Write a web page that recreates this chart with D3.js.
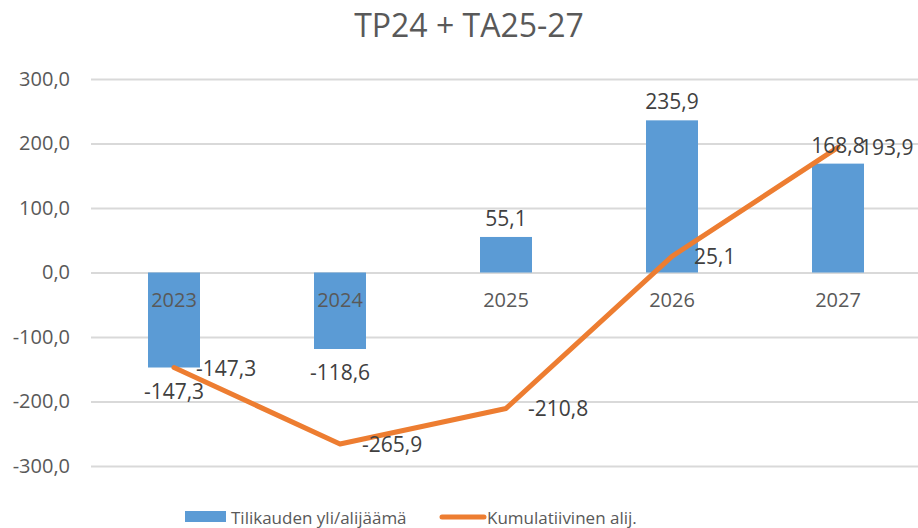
<!DOCTYPE html>
<html>
<head>
<meta charset="utf-8">
<script src="https://cdn.jsdelivr.net/npm/d3@7"></script>
<style>
  body { margin: 0; background: #fff; }
  svg { display: block; font-family: "Open Sans", sans-serif; }
</style>
</head>
<body>
<div id="chart"></div>
<script>
var years = ["2023", "2024", "2025", "2026", "2027"];
var tilikausi = [-147.3, -118.6, 55.1, 235.9, 168.8];
var kumulatiivinen = [-147.3, -265.9, -210.8, 25.1, 193.9];
var yTicks = [-300, -200, -100, 0, 100, 200, 300];
var seriesNames = ["Tilikauden yli/alijäämä", "Kumulatiivinen alij."];

function init(){
    var w = 918;
    var h = 528;
    var barColor = "#5B9BD5";
    var lineColor = "#ED7D31";

    var fmt = function(v) { return d3.format(".1f")(v).replace(".", ",").replace("−", "-"); };

    var x = d3.scaleBand()
                .domain(years)
                .range([91, 921]);

    var y = d3.scaleLinear()
                .domain([-300, 300])
                .range([466, 79]);

    var svg = d3.select("#chart")
                .append("svg")
                .attr("width", w)
                .attr("height", h);

    // title
    svg.append("text")
        .attr("x", 469)
        .attr("y", 37)
        .attr("text-anchor", "middle")
        .attr("font-size", 32)
        .attr("fill", "#595959")
        .text("TP24 + TA25-27");

    // gridlines + y labels
    var yAxis = d3.axisLeft(y)
                    .tickValues(yTicks)
                    .tickSize(-(921 - 91))
                    .tickPadding(21)
                    .tickFormat(fmt);

    var gy = svg.append("g")
        .attr("transform", "translate(91,0)")
        .call(yAxis);
    gy.select(".domain").remove();
    gy.selectAll(".tick line").attr("stroke", "#D9D9D9").attr("stroke-width", 2);
    gy.selectAll(".tick text")
        .attr("font-size", 20)
        .attr("fill", "#595959")
        .attr("font-family", "Open Sans, sans-serif");

    var bw = 52;

    // bars
    svg.selectAll("rect.bar")
        .data(tilikausi)
        .enter()
        .append("rect")
        .attr("class", "bar")
        .attr("x", function(d, i) { return x(years[i]) + x.bandwidth() / 2 - bw / 2; })
        .attr("y", function(d) { return Math.min(y(d), y(0)); })
        .attr("width", bw)
        .attr("height", function(d) { return Math.abs(y(d) - y(0)); })
        .attr("fill", barColor);

    // category labels next to zero line
    var xAxis = d3.axisBottom(x).tickSize(0).tickPadding(20);
    var gx = svg.append("g")
        .attr("transform", "translate(0," + y(0) + ")")
        .call(xAxis);
    gx.select(".domain").remove();
    gx.selectAll(".tick text")
        .attr("font-size", 20)
        .attr("fill", "#595959")
        .attr("font-family", "Open Sans, sans-serif");

    // line
    var line = d3.line()
                .x(function(d, i) { return x(years[i]) + x.bandwidth() / 2; })
                .y(function(d) { return y(d); });

    svg.append("path")
        .datum(kumulatiivinen)
        .attr("d", line)
        .attr("fill", "none")
        .attr("stroke", lineColor)
        .attr("stroke-width", 5)
        .attr("stroke-linejoin", "round")
        .attr("stroke-linecap", "round");

    // bar labels (outside end)
    svg.selectAll("text.barlab")
        .data(tilikausi)
        .enter()
        .append("text")
        .attr("class", "barlab")
        .attr("x", function(d, i) { return x(years[i]) + x.bandwidth() / 2; })
        .attr("y", function(d) { return d >= 0 ? y(d) - 11 : y(d) + 31; })
        .attr("text-anchor", "middle")
        .attr("font-size", 21)
        .attr("fill", "#404040")
        .text(fmt);

    // line labels (right)
    svg.selectAll("text.linelab")
        .data(kumulatiivinen)
        .enter()
        .append("text")
        .attr("class", "linelab")
        .attr("x", function(d, i) { return x(years[i]) + x.bandwidth() / 2 + 22; })
        .attr("y", function(d) { return y(d) + 8; })
        .attr("font-size", 21)
        .attr("fill", "#404040")
        .text(fmt);

    // legend
    var lg = svg.append("g");
    lg.append("rect")
        .attr("x", 185).attr("y", 511)
        .attr("width", 41).attr("height", 11)
        .attr("fill", barColor);
    lg.append("text")
        .attr("x", 231).attr("y", 524)
        .attr("font-size", 17)
        .attr("fill", "#595959")
        .text(seriesNames[0]);
    lg.append("line")
        .attr("x1", 442).attr("x2", 484)
        .attr("y1", 517).attr("y2", 517)
        .attr("stroke", lineColor)
        .attr("stroke-width", 5)
        .attr("stroke-linecap", "round");
    lg.append("text")
        .attr("x", 487).attr("y", 524)
        .attr("font-size", 17)
        .attr("fill", "#595959")
        .text(seriesNames[1]);
}
window.onload = init;
</script>
</body>
</html>
